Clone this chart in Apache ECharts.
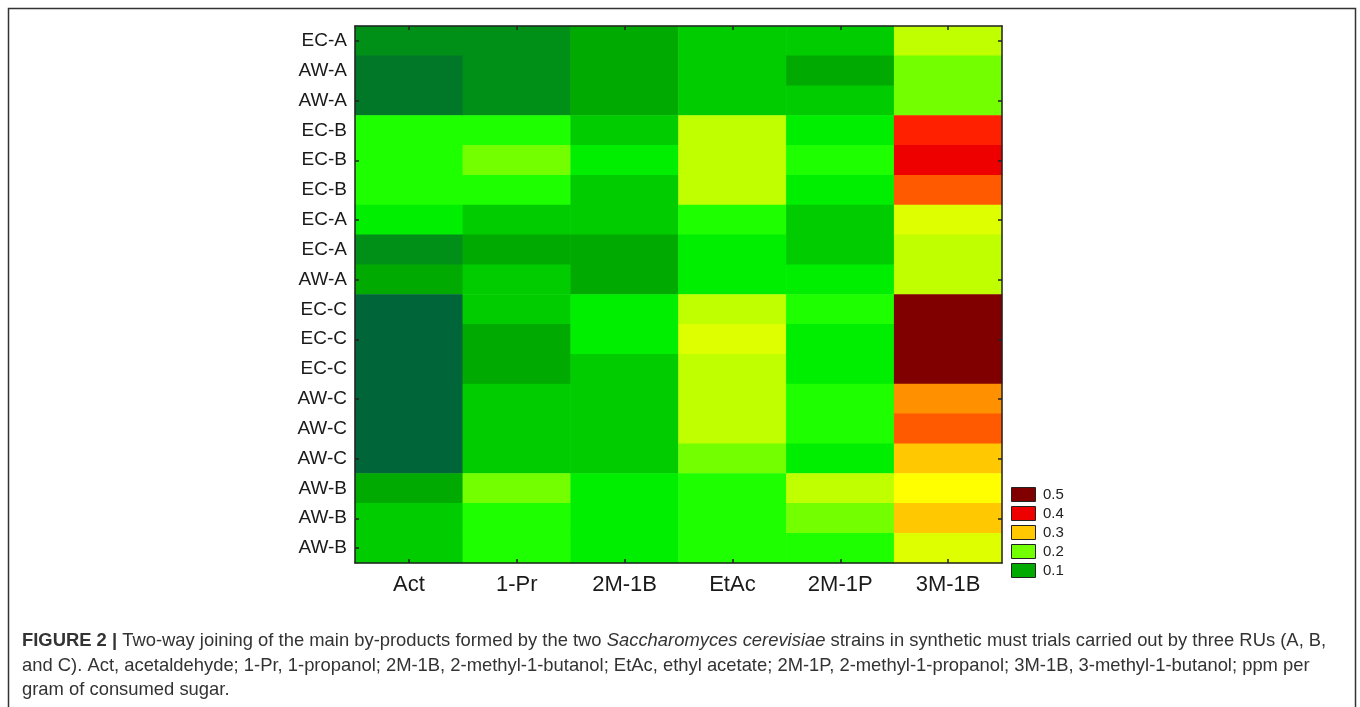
<!DOCTYPE html>
<html>
<head>
<meta charset="utf-8">
<script src="https://cdn.jsdelivr.net/npm/echarts@6/dist/echarts.min.js"></script>
<style>
html,body{margin:0;padding:0;background:#fff;}
#chart{width:1360px;height:707px;}
</style>
</head>
<body>
<div id="chart"></div>
<script>
// Categories
const compounds = ['Act', '1-Pr', '2M-1B', 'EtAc', '2M-1P', '3M-1B'];
const trials = ['EC-A','AW-A','AW-A','EC-B','EC-B','EC-B','EC-A','EC-A','AW-A',
                'EC-C','EC-C','EC-C','AW-C','AW-C','AW-C','AW-B','AW-B','AW-B'];

// Values (ppm per gram of consumed sugar), one array per compound, rows top to bottom
const Act   = [0.075,0.05,0.05,0.175,0.175,0.175,0.15,0.075,0.10,0.025,0.025,0.025,0.025,0.025,0.025,0.10,0.125,0.125];
const Pr1   = [0.075,0.075,0.075,0.175,0.20,0.175,0.125,0.10,0.125,0.125,0.10,0.10,0.125,0.125,0.125,0.20,0.175,0.175];
const M2B1  = [0.10,0.10,0.10,0.125,0.15,0.125,0.125,0.10,0.10,0.15,0.15,0.125,0.125,0.125,0.125,0.15,0.15,0.15];
const EtAc  = [0.125,0.125,0.125,0.225,0.225,0.225,0.175,0.15,0.15,0.225,0.25,0.225,0.225,0.225,0.20,0.175,0.175,0.175];
const M2P1  = [0.125,0.10,0.125,0.15,0.175,0.15,0.125,0.125,0.15,0.175,0.15,0.15,0.175,0.175,0.15,0.225,0.20,0.175];
const M3B1  = [0.225,0.20,0.20,0.375,0.40,0.35,0.25,0.225,0.225,0.50,0.50,0.50,0.325,0.35,0.30,0.275,0.30,0.25];

// Legend tick labels
const legendValues = [0.5, 0.4, 0.3, 0.2, 0.1];

const columns = [Act, Pr1, M2B1, EtAc, M2P1, M3B1];
const data = [];
columns.forEach((col, xi) => col.forEach((v, yi) => data.push([xi, yi, v])));

const scaleColors = ['#005a44','#00663a','#007828','#009018','#00aa00','#00cc00','#00ee00',
  '#1eff00','#73ff00','#c0ff00','#ddff00','#ffff00','#ffc800','#ff9000','#ff5a00',
  '#ff2000','#ee0000','#cc0000','#b00000','#980000','#800000'];
const legendColors = {0.5:'#800000', 0.4:'#ee0000', 0.3:'#ffc800', 0.2:'#73ff00', 0.1:'#00aa00'};

const FONT = '"Liberation Sans", Arial, sans-serif';
const chart = echarts.init(document.getElementById('chart'), null, {renderer: 'canvas'});

const legendGraphics = [];
legendValues.forEach((v, i) => {
  const top = 487 + i * 19;
  legendGraphics.push({
    type: 'rect', shape: {x: 1011.5, y: top + 0.5, width: 24, height: 14},
    style: {fill: legendColors[v], stroke: '#222', lineWidth: 1}
  });
  legendGraphics.push({
    type: 'text', x: 1043, y: top + 8,
    style: {text: v.toFixed(1), font: '15px ' + FONT, fill: '#222', textVerticalAlign: 'middle', verticalAlign: 'middle'}
  });
});

const CAP = 18.4;
const captionLines = [
  '{b|FIGURE 2 |} Two-way joining of the main by-products formed by the two {i|Saccharomyces cerevisiae} strains in synthetic must trials carried out by three RUs (A, B,',
  'and C). Act, acetaldehyde; 1-Pr, 1-propanol; 2M-1B, 2-methyl-1-butanol; EtAc, ethyl acetate; 2M-1P, 2-methyl-1-propanol; 3M-1B, 3-methyl-1-butanol; ppm per',
  'gram of consumed sugar.'
];
const captionGraphics = captionLines.map((t, i) => ({
  type: 'text', x: 22, y: 641 + i * 24.5,
  style: {
    text: t, fontFamily: FONT, fontSize: CAP, fill: '#333',
    verticalAlign: 'middle', textVerticalAlign: 'middle',
    rich: {
      b: {fontFamily: FONT, fontSize: CAP, fontWeight: 'bold', fill: '#333'},
      i: {fontFamily: FONT, fontSize: CAP, fontStyle: 'italic', fill: '#333'}
    }
  }
}));

const axisCommon = {
  type: 'category',
  z: 5,
  axisLine: {show: true, lineStyle: {color: '#222', width: 1.5}},
  axisTick: {show: true, inside: true, length: 4, alignWithLabel: true, lineStyle: {color: '#222', width: 1.5}},
  splitLine: {show: false}
};

chart.setOption({
  animation: false,
  backgroundColor: '#fff',
  grid: {left: 355, top: 26, right: 358, bottom: 144, show: false},
  xAxis: [
    Object.assign({}, axisCommon, {
      data: compounds, position: 'bottom',
      axisLabel: {fontSize: 22, color: '#1a1a1a', fontFamily: FONT, margin: 11}
    }),
    Object.assign({}, axisCommon, {
      data: compounds, position: 'top', axisLabel: {show: false}
    })
  ],
  yAxis: [
    Object.assign({}, axisCommon, {
      data: trials, inverse: true, position: 'left',
      axisTick: Object.assign({}, axisCommon.axisTick, {interval: 1}),
      axisLabel: {fontSize: 19, color: '#1a1a1a', fontFamily: FONT, margin: 8, interval: 0}
    }),
    Object.assign({}, axisCommon, {
      data: trials, inverse: true, position: 'right',
      axisTick: Object.assign({}, axisCommon.axisTick, {interval: 1}),
      axisLabel: {show: false}
    })
  ],
  visualMap: {
    type: 'continuous', show: false, min: 0, max: 0.5, seriesIndex: 0,
    inRange: {color: scaleColors}
  },
  series: [{
    type: 'heatmap', xAxisIndex: 0, yAxisIndex: 0, z: 1,
    data: data,
    itemStyle: {borderWidth: 0},
    emphasis: {disabled: true}
  }],
  graphic: [
    {type: 'rect', shape: {x: 8.5, y: 8.5, width: 1347, height: 720},
     style: {fill: 'none', stroke: '#333', lineWidth: 1.5}, z: 10}
  ].concat(legendGraphics, captionGraphics)
});
</script>
</body>
</html>
